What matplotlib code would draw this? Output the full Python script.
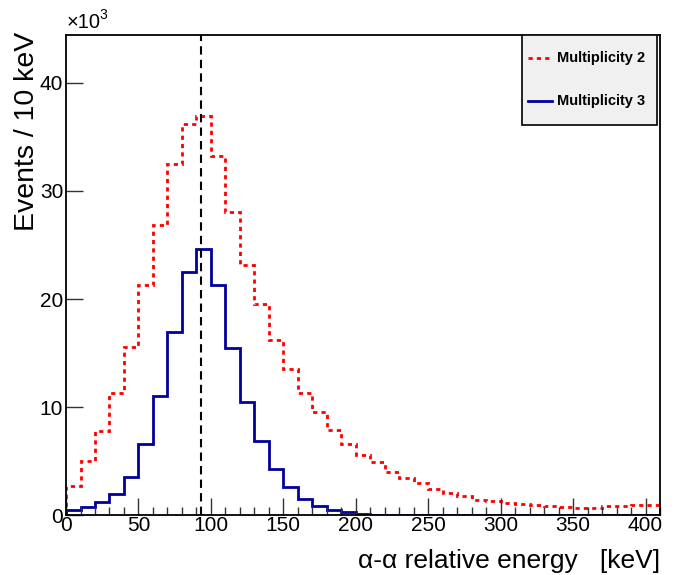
import matplotlib.pyplot as plt
import numpy as np
from matplotlib.patches import Rectangle
from matplotlib.lines import Line2D
from matplotlib.ticker import MultipleLocator

plt.rcParams['font.family'] = ['Liberation Sans', 'DejaVu Sans']

# bin edges in keV (10 keV bins)
edges = np.arange(0, 420, 10)

# events per bin, in units of 10^3
mult2 = [2.75, 5.0, 7.8, 11.3, 15.6, 21.3, 26.8, 32.5, 36.2, 36.9,
         33.2, 28.0, 23.1, 19.5, 16.2, 13.5, 11.3, 9.6, 7.9, 6.6,
         5.6, 4.9, 4.0, 3.45, 3.0, 2.43, 2.09, 1.77, 1.46, 1.31,
         1.15, 1.09, 1.0, 0.9, 0.75, 0.72, 0.72, 0.85, 0.87, 0.93,
         1.0]
mult3 = [0.55, 0.83, 1.23, 1.94, 3.6, 6.6, 11.0, 17.0, 22.5, 24.6,
         21.3, 15.5, 10.5, 6.9, 4.25, 2.65, 1.55, 0.9, 0.53, 0.28,
         0.16, 0.08, 0.05, 0.04, 0.03, 0.03, 0.02, 0.02, 0.02, 0.01,
         0.01, 0.01, 0.01, 0.01, 0.01, 0.01, 0.01, 0.01, 0.01, 0.01,
         0.01]
peak_energy = 93.0

fig = plt.figure(figsize=(6.75, 5.75), dpi=100)
ax = fig.add_axes([0.0978, 0.1035, 0.88, 0.8357])

ax.stairs(mult2, edges, color='#ff0000', lw=2, linestyle=(0, (1.5, 1.5)))
ax.stairs(mult3, edges, color='#00009e', lw=2)
ax.axvline(peak_energy, color='black', lw=1.5, linestyle=(0, (4, 2.5)))

ax.set_xlim(0, 410)
ax.set_ylim(0, 44.4)
ax.xaxis.set_major_locator(MultipleLocator(50))
ax.xaxis.set_minor_locator(MultipleLocator(10))
ax.yaxis.set_major_locator(MultipleLocator(10))
ax.tick_params(axis='both', which='major', direction='in', length=12, width=1,
               labelsize=15, color='#333333')
ax.tick_params(axis='x', which='minor', direction='in', length=6, width=1,
               color='#333333')
ax.tick_params(axis='y', pad=2)
ax.tick_params(axis='x', pad=0.5)
for s in ax.spines.values():
    s.set_linewidth(1.3)

fig.text(0.978, 0.025, 'α-α relative energy   [keV]', ha='right', va='center',
         fontsize=19)
fig.text(0.040, 0.945, 'Events / 10 keV', ha='center', va='top',
         rotation=90, fontsize=20.5)
fig.text(0.098, 0.944, '×10', ha='left', va='bottom', fontsize=14.5)
fig.text(0.148, 0.962, '3', ha='left', va='bottom', fontsize=10)

# legend box
ax.add_patch(Rectangle((0.768, 0.813), 0.227, 0.187, transform=ax.transAxes,
                       facecolor='#f0f0f0', edgecolor='black', lw=1.2,
                       zorder=5))
ax.add_line(Line2D([0.777, 0.818], [0.952, 0.952], transform=ax.transAxes,
                   color='#ff0000', lw=2, linestyle=(0, (1.5, 1.5)), zorder=6))
ax.add_line(Line2D([0.777, 0.818], [0.862, 0.862], transform=ax.transAxes,
                   color='#00009e', lw=2, zorder=6))
ax.text(0.826, 0.952, 'Multiplicity 2', transform=ax.transAxes, ha='left',
        va='center', fontsize=10.5, fontweight='bold', zorder=6)
ax.text(0.826, 0.862, 'Multiplicity 3', transform=ax.transAxes, ha='left',
        va='center', fontsize=10.5, fontweight='bold', zorder=6)

fig.savefig('out.png', dpi=100)
